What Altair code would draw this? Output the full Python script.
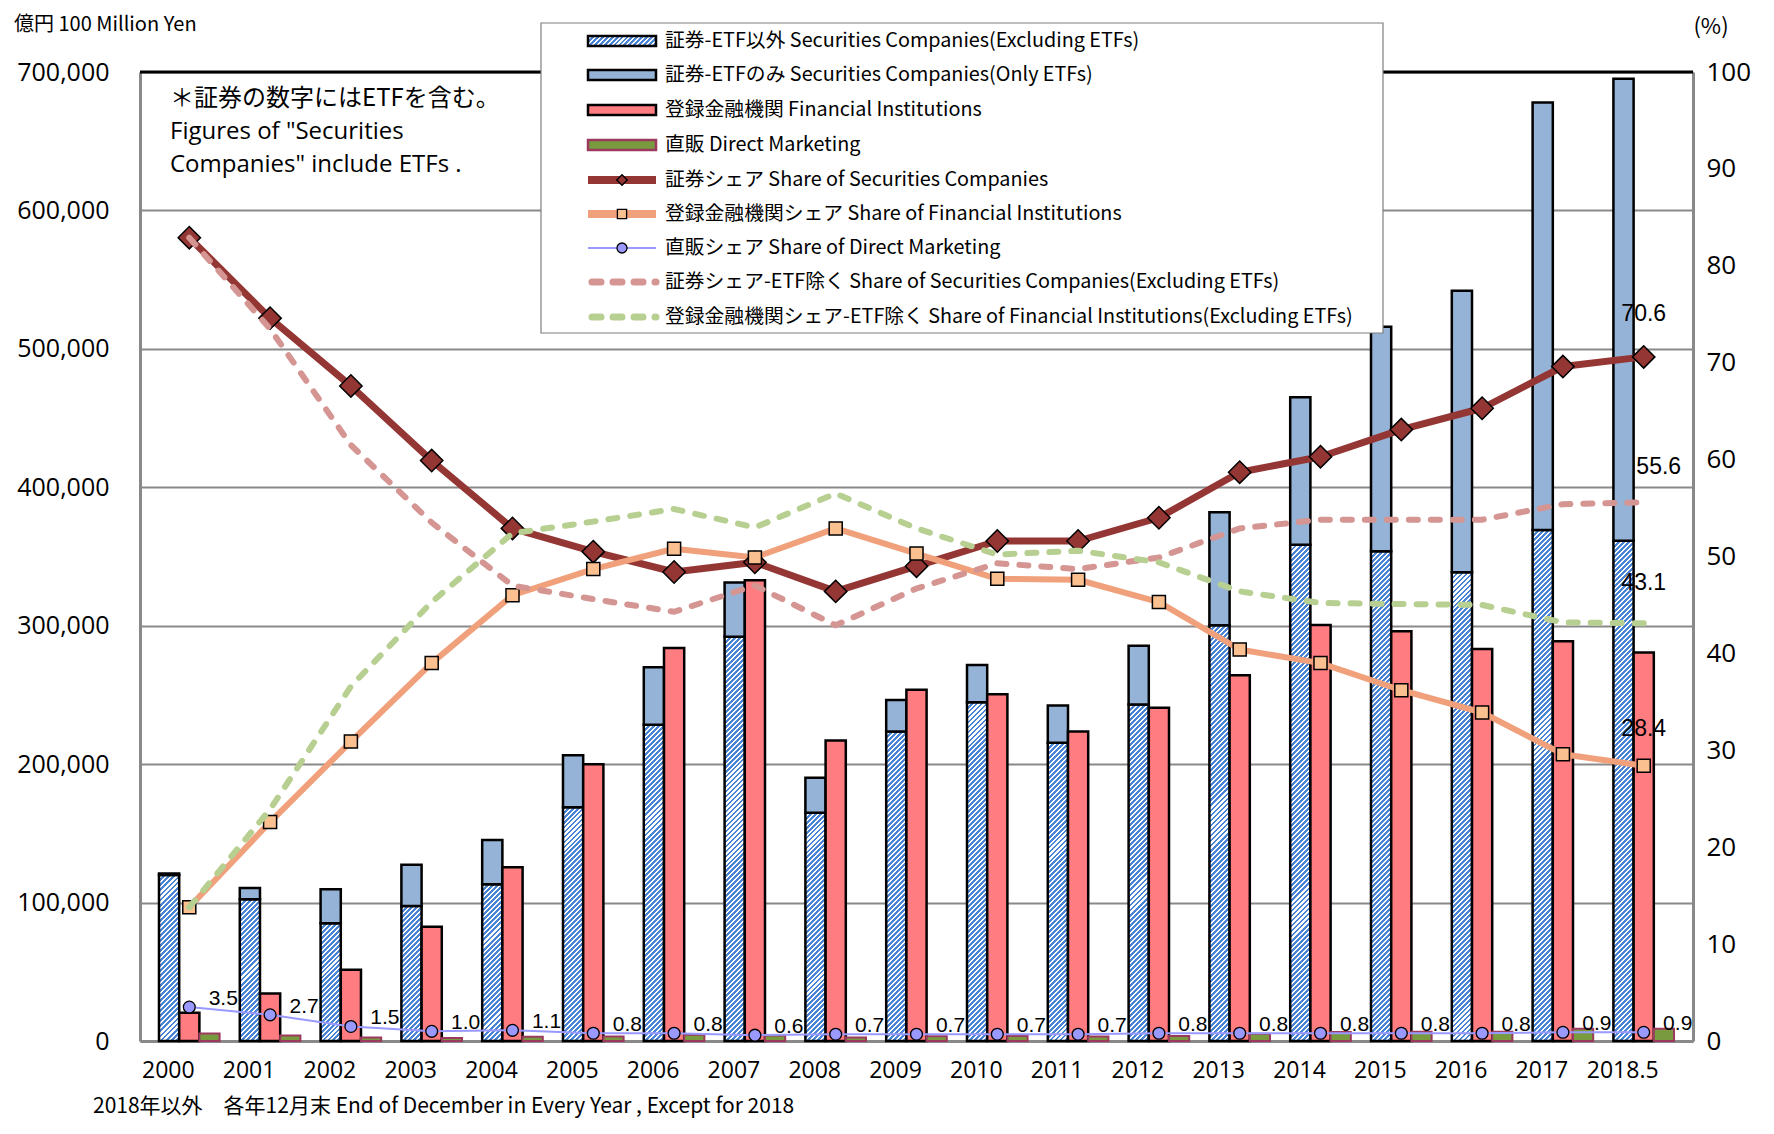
import altair as alt

# ---------------- data ----------------
years = ["2000", "2001", "2002", "2003", "2004", "2005", "2006", "2007", "2008",
         "2009", "2010", "2011", "2012", "2013", "2014", "2015", "2016", "2017", "2018.5"]

# 100 million yen
sec_excl_etf = [120000, 102400, 85100, 97600, 113300, 168900, 228400, 292100, 164800,
                223500, 244800, 215400, 243100, 300400, 358400, 353800, 338600, 369200, 361400]
sec_etf_only = [1000, 8200, 24600, 29700, 31900, 37500, 41600, 39100, 25300,
                22900, 26900, 26900, 42500, 81600, 106600, 162200, 203300, 308800, 333700]
fin_inst = [20400, 34300, 51400, 82600, 125600, 199900, 283900, 332900, 217000,
            253700, 250500, 223500, 240700, 264300, 300600, 296000, 283100, 288800, 280700]
direct_mkt = [5500, 4000, 2500, 2100, 3000, 3300, 4500, 4000, 2500,
              3500, 3700, 3300, 3700, 5300, 6500, 6600, 6600, 8800, 8900]

# %
sec_share = [82.9, 74.6, 67.6, 59.9, 52.9, 50.5, 48.4, 49.4, 46.4,
             49.0, 51.6, 51.6, 54.0, 58.7, 60.3, 63.1, 65.3, 69.6, 70.6]
fin_share = [13.8, 22.6, 30.9, 39.0, 46.0, 48.7, 50.8, 49.9, 52.9,
             50.3, 47.7, 47.6, 45.3, 40.4, 39.0, 36.2, 33.9, 29.6, 28.4]
dm_share = [3.5, 2.7, 1.5, 1.0, 1.1, 0.8, 0.8, 0.6, 0.7,
            0.7, 0.7, 0.7, 0.8, 0.8, 0.8, 0.8, 0.8, 0.9, 0.9]
sec_excl_share = [82.9, 73.5, 61.5, 53.5, 47.0, 45.6, 44.3, 47.0, 42.9,
                  46.7, 49.3, 48.7, 49.9, 52.9, 53.8, 53.8, 53.8, 55.4, 55.6]
fin_excl_share = [13.8, 23.9, 36.6, 45.3, 52.4, 53.6, 54.9, 53.0, 56.5,
                  52.9, 50.2, 50.6, 49.4, 46.4, 45.2, 45.1, 45.0, 43.2, 43.1]

legend_labels = [
    "証券-ETF以外 Securities Companies(Excluding ETFs)",
    "証券-ETFのみ Securities Companies(Only ETFs)",
    "登録金融機関 Financial Institutions",
    "直販 Direct Marketing",
    "証券シェア Share of Securities Companies",
    "登録金融機関シェア Share of Financial Institutions",
    "直販シェア Share of Direct Marketing",
    "証券シェア-ETF除く Share of Securities Companies(Excluding ETFs)",
    "登録金融機関シェア-ETF除く Share of Financial Institutions(Excluding ETFs)",
]
note_lines = ["＊証券の数字にはETFを含む。", "Figures of \"Securities", "Companies\" include ETFs ."]
unit_left = "億円 100 Million Yen"
unit_right = "(%)"
footnote = "2018年以外　各年12月末 End of December in Every Year , Except for 2018"

# ---------------- layout / style ----------------
PLOT_W, PLOT_H = 1553, 969
Y_MAX = 700000
P_IN, P_OUT = 0.25, 0.235
STEP = PLOT_W / (len(years) - P_IN + 2 * P_OUT)
BAR_W = STEP * (1 - P_IN) / 3

C_HATCH = "#4A84D4"
C_ETF = "#95B3D7"
C_FIN = "#FF7C80"
C_DM = "#7A9A40"
C_DM_STROKE = "#9B3A5E"
C_SEC_L = "#943634"
C_FIN_L = "#F0A07A"
C_FIN_PT = "#FAC090"
C_DM_L = "#9999FF"
C_SECX = "#D49593"
C_FINX = "#B8CF92"
GRID = "#898989"
JP = "Noto Sans CJK JP"
NUM = "Open Sans"


def hatch(w, h, period=5.0, frac=0.58, ink=C_HATCH, paper="#FFFFFF"):
    """Diagonal (/) stripe pattern as a bounding-box linear gradient."""
    h = max(h, 1.0)
    s = (w + h) / (w * w + h * h)
    n = max(1, int(round((w + h) / period)))
    stops = []
    for i in range(n):
        t0, t1, t2 = i / n, (i + frac) / n, (i + 1) / n
        stops += [{"offset": round(t0, 5), "color": ink},
                  {"offset": round(t1, 5), "color": ink},
                  {"offset": round(t1, 5), "color": paper},
                  {"offset": round(t2, 5), "color": paper}]
    return {"gradient": "linear", "x1": 0, "y1": 0, "x2": w * s, "y2": h * s, "stops": stops}


rows = []
for i, yr in enumerate(years):
    rows.append(dict(
        year=yr, excl=sec_excl_etf[i], total=sec_excl_etf[i] + sec_etf_only[i],
        fin=fin_inst[i], dm=direct_mkt[i],
        ss=sec_share[i], fs=fin_share[i], ds=dm_share[i],
        sxs=sec_excl_share[i], fxs=fin_excl_share[i],
        grad=hatch(BAR_W, sec_excl_etf[i] / Y_MAX * PLOT_H),
    ))
data = alt.Data(values=rows)
one = alt.Data(values=[{"k": 0}])

X = alt.X("year:N", sort=years, title=None,
          scale=alt.Scale(domain=years, paddingInner=P_IN, paddingOuter=P_OUT),
          axis=alt.Axis(labelAngle=0, labelFont=NUM, labelFontSize=23, labelColor="black",
                        labelOffset=-21, labelPadding=18, ticks=False, domainColor=GRID,
                        domainWidth=3, grid=False))
XO = alt.XOffset("slot:N", sort=["s", "f", "d"],
                 scale=alt.Scale(domain=["s", "f", "d"], paddingInner=0, paddingOuter=0))
YL_SCALE = alt.Scale(domain=[0, Y_MAX], nice=False, zero=True)
YL_AXIS = alt.Axis(values=list(range(0, Y_MAX + 1, 100000)), format=",d", orient="left",
                   labelFont=NUM, labelFontSize=25, labelColor="black", labelPadding=31,
                   ticks=False, domainColor=GRID, domainWidth=3, grid=True,
                   gridColor=GRID, gridWidth=2)
YR_SCALE = alt.Scale(domain=[0, 100], nice=False)
YR_AXIS = alt.Axis(values=list(range(0, 101, 10)), orient="right", labelFont=NUM,
                   labelFontSize=26, labelColor="black", labelPadding=13, ticks=False,
                   domainColor=GRID, domainWidth=3, grid=False)


def yl(field):
    return alt.Y(field, scale=YL_SCALE, axis=YL_AXIS, title=None)


def yr(field):
    return alt.Y(field, scale=YR_SCALE, axis=YR_AXIS, title=None)


BAR_STROKE = dict(stroke="black", strokeWidth=2.5, strokeJoin="miter")

hatched = alt.Chart(data).mark_bar(**BAR_STROKE).encode(
    x=X, xOffset=XO, y=yl("excl:Q"),
    fill=alt.Fill("grad:N", scale=None, legend=None),
).transform_calculate(slot="'s'")

etf = alt.Chart(data).mark_bar(fill=C_ETF, **BAR_STROKE).encode(
    x=X, xOffset=XO, y=yl("excl:Q"), y2=alt.Y2("total:Q"),
).transform_calculate(slot="'s'")

fin = alt.Chart(data).mark_bar(fill=C_FIN, **BAR_STROKE).encode(
    x=X, xOffset=XO, y=yl("fin:Q"),
).transform_calculate(slot="'f'")

dm = alt.Chart(data).mark_bar(fill=C_DM, stroke=C_DM_STROKE, strokeWidth=2).encode(
    x=X, xOffset=XO, y=yl("dm:Q"),
).transform_calculate(slot="'d'")

top_rule = alt.Chart(one).mark_rule(color="black", strokeWidth=3).encode(
    y=alt.datum(Y_MAX, type="quantitative", scale=YL_SCALE, axis=YL_AXIS))

bars = alt.layer(hatched, etf, fin, dm, top_rule)

# ---- lines (right axis)
sec_line = alt.Chart(data).mark_line(color=C_SEC_L, strokeWidth=7, strokeJoin="round").encode(
    x=X, y=yr("ss:Q"))
sec_pts = alt.Chart(data).mark_point(shape="diamond", filled=True, fill=C_SEC_L, stroke="black",
                                     strokeWidth=1.5, size=500, opacity=1).encode(x=X, y=yr("ss:Q"))
fin_line = alt.Chart(data).mark_line(color=C_FIN_L, strokeWidth=6, strokeJoin="round").encode(
    x=X, y=yr("fs:Q"))
fin_pts = alt.Chart(data).mark_point(shape="square", filled=True, fill=C_FIN_PT, stroke="black",
                                     strokeWidth=1.5, size=170, opacity=1).encode(x=X, y=yr("fs:Q"))
dm_line = alt.Chart(data).mark_line(color=C_DM_L, strokeWidth=2).encode(x=X, y=yr("ds:Q"))
dm_pts = alt.Chart(data).mark_point(shape="circle", filled=True, fill=C_DM_L, stroke="black",
                                    strokeWidth=1.3, size=140, opacity=1).encode(x=X, y=yr("ds:Q"))
dm_lab = alt.Chart(data).mark_text(font="Liberation Sans", fontSize=21, dx=34, dy=-8,
                                   color="black").encode(
    x=X, y=yr("ds:Q"), text=alt.Text("ds:Q", format=".1f"))
secx_line = alt.Chart(data).mark_line(color=C_SECX, strokeWidth=6, strokeDash=[9, 13],
                                      strokeCap="round").encode(x=X, y=yr("sxs:Q"))
finx_line = alt.Chart(data).mark_line(color=C_FINX, strokeWidth=6, strokeDash=[9, 13],
                                      strokeCap="round").encode(x=X, y=yr("fxs:Q"))


def end_label(field, dx, dy):
    return alt.Chart(data).mark_text(font="Liberation Sans", fontSize=23, dx=dx, dy=dy,
                                     color="black").encode(
        x=X, y=yr(field + ":Q"), text=alt.Text(field + ":Q", format=".1f")
    ).transform_filter(alt.datum.year == years[-1])


ends = [end_label("ss", 0, -43), end_label("sxs", 15, -35),
        end_label("fxs", 0, -40), end_label("fs", 0, -37)]

# ---- legend box and items (pixel placement)
LX0, LX1 = 401, 1243
LY0, LY1 = -49, 261
SX0, SX1 = 448, 516
SXC = (SX0 + SX1) / 2
TX = 525
rows_y = [-31, 3, 38, 73, 108, 142, 176, 210, 245]

extras = []
extras.append(alt.Chart(one).mark_rect(fill="white", stroke="#7F7F7F", strokeWidth=1.2).encode(
    x=alt.value(LX0), x2=alt.value(LX1), y=alt.value(LY0), y2=alt.value(LY1)))


def leg_rect(r, fill, stroke="black", sw=2.5):
    return alt.Chart(one).mark_rect(fill=fill, stroke=stroke, strokeWidth=sw).encode(
        x=alt.value(SX0), x2=alt.value(SX1), y=alt.value(r - 5), y2=alt.value(r + 5))


def leg_line(r, color, width, dash=None):
    kw = dict(color=color, strokeWidth=width, strokeCap="round" if dash else "butt")
    if dash:
        kw["strokeDash"] = dash
    return alt.Chart(one).mark_rule(**kw).encode(
        x=alt.value(SX0 + (4 if dash else 0)), x2=alt.value(SX1), y=alt.value(r))


def leg_pt(r, shape, fill, size):
    return alt.Chart(one).mark_point(shape=shape, filled=True, fill=fill, stroke="black",
                                     strokeWidth=1.3, size=size, opacity=1).encode(
        x=alt.value(SXC), y=alt.value(r))


extras += [
    leg_rect(rows_y[0], hatch(SX1 - SX0, 10, period=5.0)),
    leg_rect(rows_y[1], C_ETF),
    leg_rect(rows_y[2], C_FIN),
    leg_rect(rows_y[3], C_DM, stroke=C_DM_STROKE, sw=2.5),
    leg_line(rows_y[4], C_SEC_L, 8), leg_pt(rows_y[4], "diamond", C_SEC_L, 110),
    leg_line(rows_y[5], C_FIN_L, 8), leg_pt(rows_y[5], "square", C_FIN_PT, 85),
    leg_line(rows_y[6], C_DM_L, 2), leg_pt(rows_y[6], "circle", C_DM_L, 100),
    leg_line(rows_y[7], C_SECX, 7, [9, 12]),
    leg_line(rows_y[8], C_FINX, 7, [9, 12]),
]
for r, lab in zip(rows_y, legend_labels):
    extras.append(alt.Chart(one).mark_text(text=lab, font=JP, fontSize=19.8, align="left",
                                           baseline="middle", color="black").encode(
        x=alt.value(TX), y=alt.value(r)))

# ---- free texts
for j, t in enumerate(note_lines):
    extras.append(alt.Chart(one).mark_text(text=t, font=JP if j == 0 else NUM,
                                           fontSize=24, align="left",
                                           baseline="middle", color="black").encode(
        x=alt.value(30), y=alt.value([27, 60, 93][j])))
extras.append(alt.Chart(one).mark_text(text=unit_left, font=JP, fontSize=20, align="left",
                                       baseline="middle", color="black").encode(
    x=alt.value(-126), y=alt.value(-47)))
extras.append(alt.Chart(one).mark_text(text=unit_right, font=JP, fontSize=22, align="center",
                                       baseline="middle", color="black").encode(
    x=alt.value(1571), y=alt.value(-45)))
extras.append(alt.Chart(one).mark_text(text=footnote, font=JP, fontSize=21, align="left",
                                       baseline="middle", color="black").encode(
    x=alt.value(-47), y=alt.value(1035)))

lines = alt.layer(sec_line, fin_line, dm_line, sec_pts, fin_pts, dm_pts, secx_line, finx_line,
                  dm_lab, *ends, *extras)

chart = alt.layer(bars, lines).resolve_scale(y="independent").properties(
    width=PLOT_W, height=PLOT_H,
    padding={"left": 132, "top": 64, "right": 73, "bottom": 85},
    autosize=alt.AutoSizeParams(type="none"),
).configure_view(strokeWidth=0).configure(background="white")

chart.save("out.html", embed_options={"renderer": "svg", "actions": False})
